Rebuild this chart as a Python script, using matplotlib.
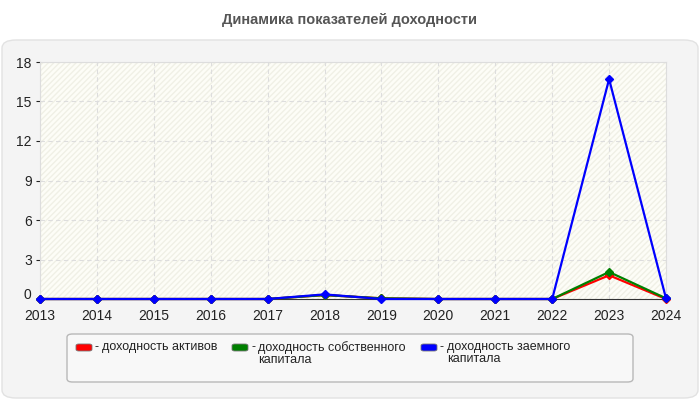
import matplotlib
matplotlib.use('Agg')
import matplotlib.pyplot as plt
from matplotlib.patches import FancyBboxPatch

plt.rcParams['font.family'] = ['Liberation Sans', 'DejaVu Sans']

years = [2013, 2014, 2015, 2016, 2017, 2018, 2019, 2020, 2021, 2022, 2023, 2024]
roa = [0, 0, 0, 0, 0, 0.3, 0.05, 0, 0, 0, 1.8, 0.0]
roe = [0, 0, 0, 0, 0, 0.3, 0.05, 0, 0, 0, 2.05, 0.05]
rod = [0, 0, 0, 0, 0, 0.35, 0, 0, 0, 0, 16.7, 0.05]
labels = ['доходность активов', 'доходность собственного\nкапитала', 'доходность заемного\nкапитала']
colors = ['#ff0000', '#008000', '#0000ff']
yticks = [0, 3, 6, 9, 12, 15, 18]

W, H = 700, 400
fig = plt.figure(figsize=(7, 4), dpi=100)
fig.patch.set_facecolor('white')

# outer panel
panel = FancyBboxPatch((2 / W, 2 / H), 696 / W, 358 / H,
                       boxstyle='round,pad=0,rounding_size=0.02',
                       transform=fig.transFigure, facecolor='#f4f4f4',
                       edgecolor='#e2e2e2', linewidth=1, zorder=-2)
fig.patches.append(panel)

fig.text(0.5, 1 - 20 / H, 'Динамика показателей доходности', ha='center', va='center',
         fontsize=10.5, fontweight='bold', color='#555555')

ax = fig.add_axes([40 / W, 1 - 299 / H, 626 / W, 237 / H])
ax.set_facecolor('#fdfdf7')
plt.rcParams['hatch.color'] = '#f0f0e6'
ax.add_patch(plt.Rectangle((0, 0), 1, 1, transform=ax.transAxes, facecolor='none',
                           hatch='//////', edgecolor='#f0f0e6', linewidth=0, zorder=0))

for vals, c in zip([roa, roe, rod], colors):
    ax.plot(years, vals, color=c, linewidth=1.6, marker='D', markersize=4.5, zorder=3,
            clip_on=False)

ax.set_xlim(2013, 2024)
ax.set_ylim(0, 18)
ax.set_xticks(years)
ax.set_yticks(yticks)
ax.grid(True, color='#dddddd', linestyle=(0, (4, 3)), linewidth=0.8)
ax.tick_params(labelsize=10, colors='#222222', length=3)
ax.tick_params(axis='x', pad=7, length=0)
ax.tick_params(axis='y', pad=3)
ax.get_yticklabels()[0].set_va('baseline')
for s in ['top', 'right', 'left']:
    ax.spines[s].set_color('#dddddd')
ax.spines['bottom'].set_color('#333333')

# legend box drawn by hand so that the labels sit top-aligned
lbox = FancyBboxPatch((67 / W, 1 - 382 / H), 566 / W, 48 / H,
                      boxstyle='round,pad=0,rounding_size=0.008',
                      transform=fig.transFigure, facecolor='#f8f8f8',
                      edgecolor='#b8b8b8', linewidth=1, zorder=-1)
fig.patches.append(lbox)
hx = [76, 232, 421]
for x0, c, lab in zip(hx, colors, labels):
    fig.patches.append(FancyBboxPatch((x0 / W, 1 - 351 / H), 16 / W, 7 / H,
                                      boxstyle='round,pad=0,rounding_size=0.004',
                                      transform=fig.transFigure, facecolor=c,
                                      edgecolor='#777777', linewidth=0.6))
    fig.text((x0 + 19) / W, 1 - 341 / H, '-', ha='left', va='top',
             fontsize=9, color='#222222')
    fig.text((x0 + 26) / W, 1 - 341 / H, lab, ha='left', va='top',
             fontsize=9, color='#222222', linespacing=1.05)

fig.savefig('out.png', dpi=100)
